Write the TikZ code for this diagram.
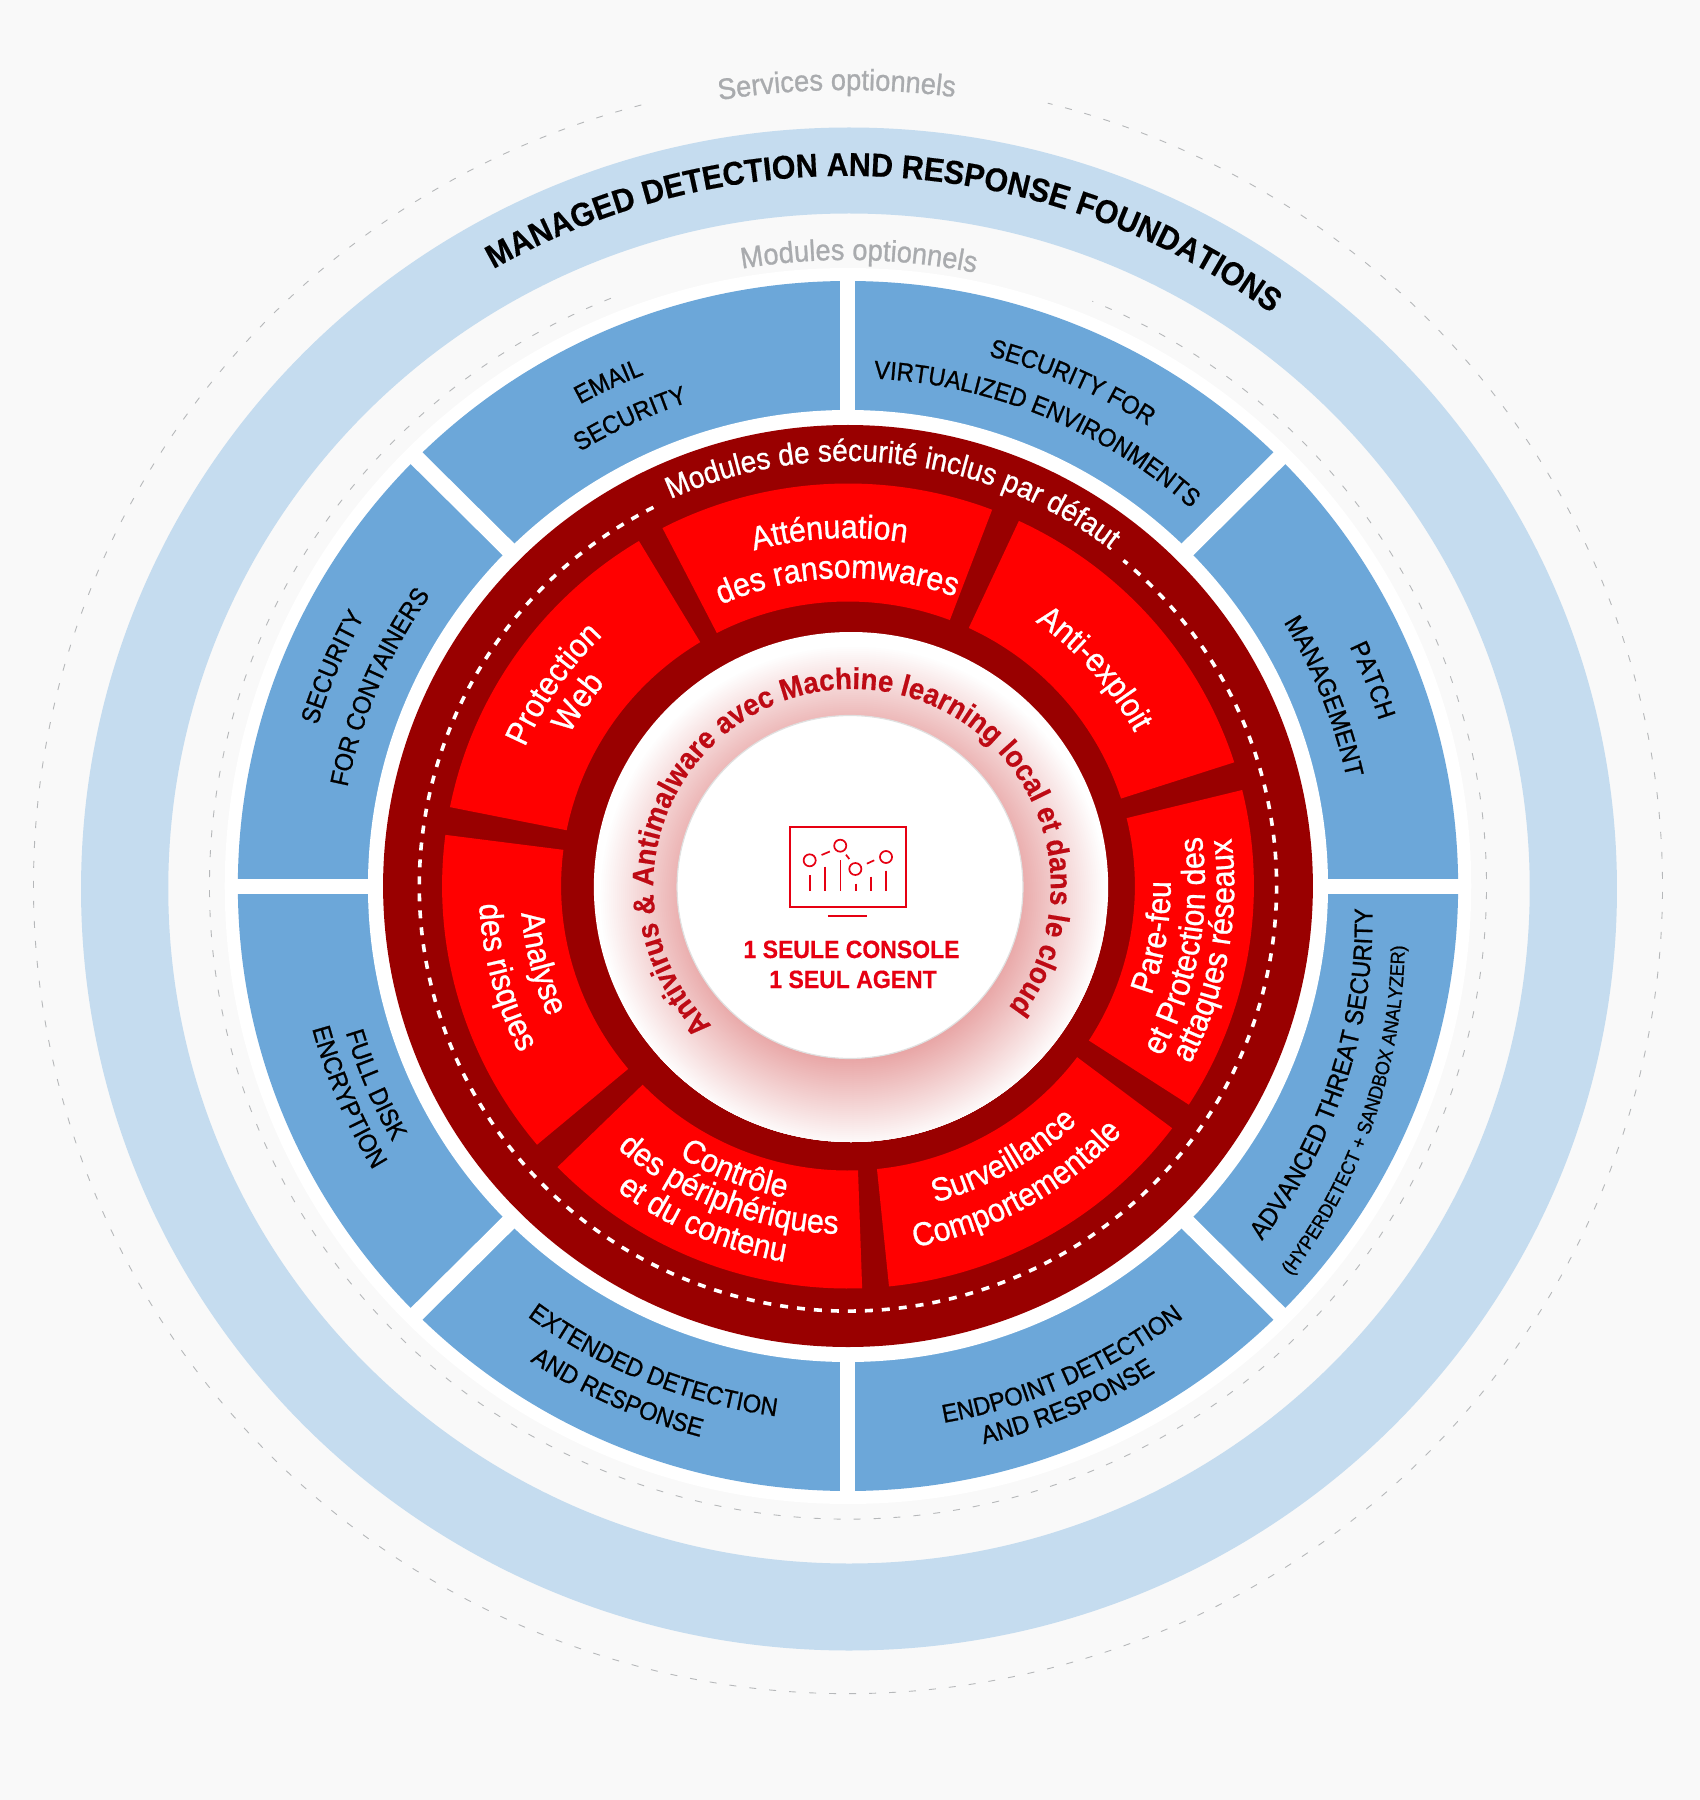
\documentclass[tikz,border=0pt]{standalone}
\usepackage{fontspec}
\usepackage{xcolor}
\usetikzlibrary{decorations.text}
\setmainfont[FakeStretch=0.92,BoldFeatures={FakeBold=0.4}]{Liberation Sans}
\newfontfamily\medfont[FakeStretch=0.92,FakeBold=0.9]{Liberation Sans}
\definecolor{PageGrey}{HTML}{F9F9F9}
\definecolor{PaleBlue}{HTML}{C5DCEF}
\definecolor{ModBlue}{HTML}{6CA7D9}
\definecolor{DeepRed}{HTML}{990000}
\definecolor{PureRed}{HTML}{FF0000}
\definecolor{ConsoleRed}{HTML}{E60012}
\definecolor{AvRed}{HTML}{BE0A14}
\definecolor{SoftGrey}{HTML}{A9ABAE}
\definecolor{GlowPink}{HTML}{E8A5A5}
\newcommand{\titlefnt}{\fontsize{33}{33}\selectfont\bfseries\color{black}}
\newcommand{\greyfnt}{\fontsize{29.6}{30}\selectfont\medfont\color{SoftGrey}}
\newcommand{\bluefnt}{\fontsize{25.6}{26}\selectfont\medfont\color{black}}
\newcommand{\smallfnt}{\fontsize{19.6}{20}\selectfont\medfont\color{black}}
\newcommand{\redfnt}{\fontsize{33}{33}\selectfont\medfont\color{white}}
\newcommand{\deffnt}{\fontsize{30.5}{31}\selectfont\medfont\color{white}}
\newcommand{\avfnt}{\fontsize{30}{30}\selectfont\bfseries\color{AvRed}}
% text over the top: radius, middle angle, font, text
\newcommand{\overarc}[4]{\path[decorate,decoration={text along path,text align=center,text={|#3|#4}}]
  (#2+85:#1) arc[start angle=#2+85,delta angle=-170,radius=#1];}
% text under the bottom
\newcommand{\underarc}[4]{\path[decorate,decoration={text along path,text align=center,text={|#3|#4}}]
  (#2-85:#1) arc[start angle=#2-85,delta angle=170,radius=#1];}
\tikzset{
  greydash/.style={SoftGrey!85,line width=0.9pt,dash pattern=on 7pt off 13pt},
  whitedash/.style={white,line width=3.6pt,dash pattern=on 8pt off 9pt},
  iconline/.style={ConsoleRed,line width=1.7pt},
  centrelabel/.style={ConsoleRed,font=\fontsize{25}{25}\selectfont\bfseries,inner sep=0pt,anchor=base}
}
\begin{document}
\begin{tikzpicture}[x=1.0085pt,y=1pt]
  \useasboundingbox (-848pt,-914pt) rectangle (852pt,886pt);
  \fill[PageGrey] (-848pt,-914pt) rectangle (852pt,886pt);
  % optional services
  \draw[greydash] (104.7:807.5) arc (104.7:435.8:807.5);
  \fill[PaleBlue,even odd rule] (1,-3) circle (761.5) (1,-2.5) circle (675);
  \draw[greydash] (111.8:633) arc (111.8:427.5:633);
  % optional modules
  \fill[white] (0,0) circle (618);
  \fill[ModBlue] (0,0) circle (605);
  \foreach \a in {0,90}{\draw[white,line width=15pt] (\a:612) -- (\a+180:612);}
  \foreach \a in {45,135}{\draw[white,line width=16.5pt] (\a:612) -- (\a+180:612);}
  \fill[white] (0,0) circle (476);
  % included modules
  \fill[DeepRed] (0,0) circle (461);
  \foreach \s/\e in {17.9/65.1,69.2/117.2,121/168.7,172.7/220,224.3/272,275.8/323,327.1/373.8}{
    \fill[PureRed] (\s:402.5) arc (\s:\e:402.5) -- (\e:284.5) arc (\e:\s:284.5) -- cycle;
  }
  \draw[whitedash] (117:425) arc (117:410:425);
  % centre
  \fill[white] (3,-1) circle (255);
  \begin{scope}
    \clip (3,-1) circle (255);
    \foreach \k in {0,...,45}{
      \pgfmathsetmacro{\mix}{100*\k/45}
      \fill[GlowPink!\mix!white] (5,-11) circle (252-2*\k);
    }
  \end{scope}
  \fill[white,draw=black!12,line width=1.2pt] (2,-1) circle (171.5);
  \draw[iconline] (-57.3,59.3) rectangle (57.3,-21.3);
  \draw[iconline] (-20,-29.7) -- (19,-29.7);
  \foreach \cx/\cy in {-38/25.7,-7.7/40.3,7.3/17,37.7/29}{\draw[iconline] (\cx,\cy) circle (6);}
  \foreach \bx/\by in {-38/11,-22.7/19.5,-7.5/26,7.7/2.5,22.7/9.5,37.7/15.5}{\draw[iconline] (\bx,\by) -- (\bx,-5.2);}
  \draw[iconline] (-26.2,31) -- (-18,34.5);
  \draw[iconline] (-2,31.3) -- (1.3,27);
  \draw[iconline] (18.7,22.3) -- (26,25.7);
  \node[centrelabel] (console) at (3.5,-72) {1 SEULE CONSOLE};
  \node[centrelabel] (agent) at (5,-102) {1 SEUL AGENT};
  % curved labels
  \overarc{710}{86.7}{\titlefnt}{MANAGED DETECTION AND RESPONSE FOUNDATIONS}
  \overarc{796}{90.8}{\greyfnt}{Services optionnels}
  \overarc{626}{89}{\greyfnt}{Modules optionnels}
  \overarc{548}{66}{\bluefnt}{SECURITY FOR}
  \overarc{508}{67.4}{\bluefnt}{VIRTUALIZED ENVIRONMENTS}
  \overarc{550}{115.4}{\bluefnt}{EMAIL}
  \overarc{509}{115}{\bluefnt}{SECURITY}
  \overarc{552}{21.4}{\bluefnt}{PATCH}
  \overarc{506}{21.7}{\bluefnt}{MANAGEMENT}
  \overarc{550}{157}{\bluefnt}{SECURITY}
  \overarc{506}{157}{\bluefnt}{FOR CONTAINERS}
  \underarc{519}{202.8}{\bluefnt}{FULL DISK}
  \underarc{550}{202.9}{\bluefnt}{ENCRYPTION}
  \underarc{535}{247.8}{\bluefnt}{EXTENDED DETECTION}
  \underarc{570}{245.6}{\bluefnt}{AND RESPONSE}
  \underarc{545}{294}{\bluefnt}{ENDPOINT DETECTION}
  \underarc{574}{293}{\bluefnt}{AND RESPONSE}
  \begin{scope}[shift={(-7,-33)}]
    \underarc{527}{341.9}{\bluefnt}{ADVANCED THREAT SECURITY}
  \end{scope}
  \begin{scope}[shift={(-8,-53)}]
    \underarc{560}{341.3}{\smallfnt}{(HYPERDETECT + SANDBOX ANALYZER)}
  \end{scope}
  \overarc{425}{83.3}{\deffnt}{Modules de sécurité inclus par défaut}
  \overarc{349}{145.6}{\redfnt}{Protection}
  \overarc{315}{145.8}{\redfnt}{Web}
  \overarc{348}{93}{\redfnt}{Atténuation}
  \overarc{308}{92}{\redfnt}{des ransomwares}
  \overarc{323}{41.4}{\redfnt}{Anti-exploit}
  \underarc{320}{350.5}{\redfnt}{Pare-feu}
  \underarc{354}{349.7}{\redfnt}{et Protection des}
  \underarc{383}{349.8}{\redfnt}{attaques réseaux}
  \underarc{328}{299.8}{\redfnt}{Surveillance}
  \underarc{367}{299.3}{\redfnt}{Comportementale}
  \underarc{318}{248.3}{\redfnt}{Contrôle}
  \underarc{348}{248.5}{\redfnt}{des périphériques}
  \underarc{381}{246.6}{\redfnt}{et du contenu}
  \underarc{325}{194.2}{\redfnt}{Analyse}
  \underarc{366}{194.9}{\redfnt}{des risques}
  \begin{scope}[shift={(4,0)}]
    \path[decorate,decoration={text along path,text align=center,text={|\avfnt|Antivirus {\&} Antimalware avec Machine learning local et dans le cloud}}]
      (253.5:197) arc[start angle=253.5,delta angle=-320,radius=197];
  \end{scope}
\end{tikzpicture}
\end{document}
